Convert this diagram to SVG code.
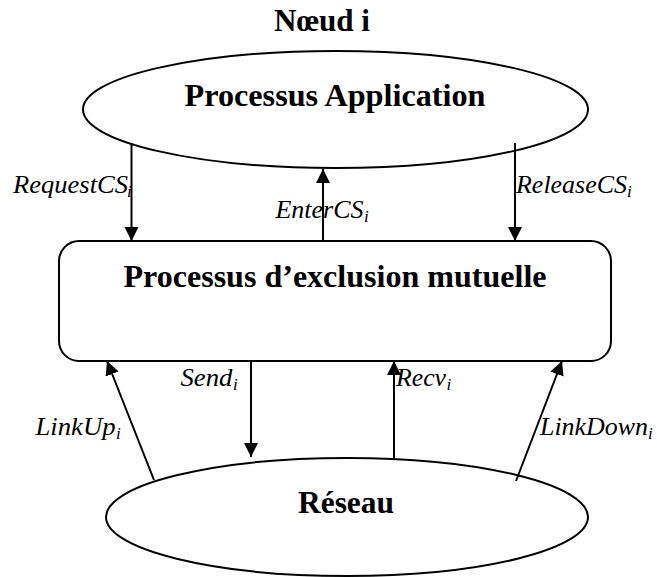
<svg xmlns="http://www.w3.org/2000/svg" width="657" height="577" viewBox="0 0 657 577">
  <style>
    .shape { fill: #ffffff; stroke: #000000; stroke-width: 2; }
    .title { font-family: "Liberation Serif", "Times New Roman", serif; font-weight: bold; font-size: 32px; fill: #000; }
    .lbl { font-family: "Liberation Serif", "Times New Roman", serif; font-style: italic; font-size: 26px; fill: #000; }
    .sub { font-family: "Liberation Serif", "Times New Roman", serif; font-style: italic; font-size: 17px; fill: #000; }
    .conn { stroke: #000000; stroke-width: 2; fill: none; marker-end: url(#head); }
  </style>
  <defs>
    <marker id="head" markerUnits="userSpaceOnUse" markerWidth="14" markerHeight="15" refX="14" refY="7" orient="auto">
      <path d="M0,0 L14,7 L0,14 Z" fill="#000"/>
    </marker>
  </defs>
  <rect width="657" height="577" fill="#ffffff"/>

  <text class="title" x="322" y="31" text-anchor="middle" textLength="96" lengthAdjust="spacingAndGlyphs">Nœud i</text>

  <g id="application">
    <ellipse class="shape" cx="335.5" cy="109.5" rx="252.5" ry="58.5"/>
    <text class="title" x="335" y="106" text-anchor="middle" textLength="301" lengthAdjust="spacingAndGlyphs">Processus Application</text>
  </g>

  <g id="exclusion">
    <rect class="shape" x="59" y="241" width="552" height="120" rx="20" ry="20"/>
    <text class="title" x="335" y="287" text-anchor="middle" textLength="423" lengthAdjust="spacingAndGlyphs">Processus d’exclusion mutuelle</text>
  </g>

  <g id="reseau">
    <ellipse class="shape" cx="347" cy="517" rx="241" ry="59"/>
    <text class="title" x="346" y="513" text-anchor="middle" textLength="96" lengthAdjust="spacingAndGlyphs">Réseau</text>
  </g>

  <g id="connectors">
    <line class="conn" x1="131.5" y1="143" x2="131.5" y2="241"/>
    <line class="conn" x1="323" y1="241" x2="323" y2="169"/>
    <line class="conn" x1="515" y1="143" x2="515" y2="241"/>
    <line class="conn" x1="251" y1="361" x2="251" y2="457"/>
    <line class="conn" x1="394" y1="458" x2="394" y2="361"/>
    <line class="conn" x1="154" y1="480" x2="107" y2="361"/>
    <line class="conn" x1="516" y1="481" x2="562" y2="361"/>
  </g>

  <g id="labels">
    <text class="lbl" x="13" y="193" textLength="115" lengthAdjust="spacingAndGlyphs">RequestCS</text>
    <text class="sub" x="127" y="197">i</text>
    <text class="lbl" x="275.5" y="218" textLength="88" lengthAdjust="spacingAndGlyphs">EnterCS</text>
    <text class="sub" x="364" y="222">i</text>
    <text class="lbl" x="516" y="193" textLength="111" lengthAdjust="spacingAndGlyphs">ReleaseCS</text>
    <text class="sub" x="627" y="197">i</text>
    <text class="lbl" x="180.5" y="386" textLength="52" lengthAdjust="spacingAndGlyphs">Send</text>
    <text class="sub" x="233" y="390">i</text>
    <text class="lbl" x="396" y="386" textLength="50" lengthAdjust="spacingAndGlyphs">Recv</text>
    <text class="sub" x="446.5" y="390">i</text>
    <text class="lbl" x="35.5" y="435" textLength="80" lengthAdjust="spacingAndGlyphs">LinkUp</text>
    <text class="sub" x="116" y="439">i</text>
    <text class="lbl" x="540" y="435" textLength="108" lengthAdjust="spacingAndGlyphs">LinkDown</text>
    <text class="sub" x="648" y="439">i</text>
  </g>
</svg>
